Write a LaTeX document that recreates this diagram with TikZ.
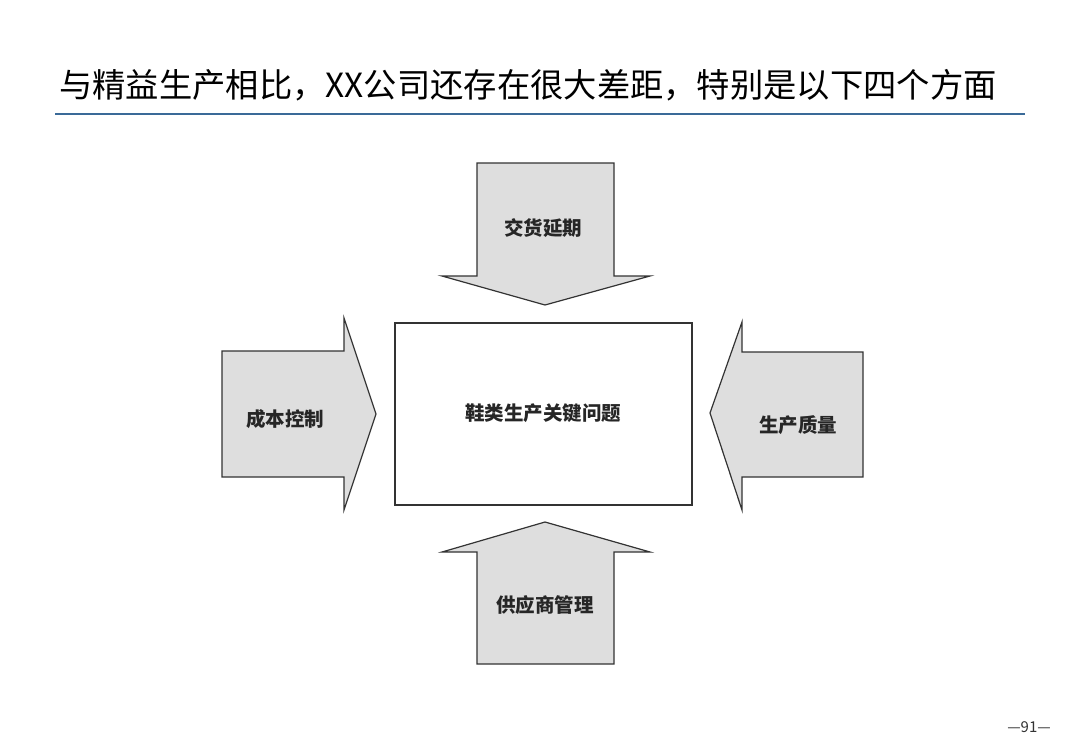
\documentclass[tikz,border=0pt]{standalone}
\usepackage{fontspec}
\setmainfont{Noto Sans CJK SC}
\definecolor{linegray}{HTML}{333333}
\definecolor{fillgray}{HTML}{DEDEDE}
\definecolor{rulecol}{HTML}{3A6A98}
\tikzset{
    fat/.style={draw=linegray, fill=fillgray, line width=1.2pt, line join=miter},
    lbl/.style={font=\fontsize{19.5}{22}\selectfont\bfseries, text=black!85}
}
\begin{document}
\begin{tikzpicture}[x=1pt,y=-1pt]
    \useasboundingbox (0,0) rectangle (1080,748);
    \node (title) at (528,85) {\fontsize{33.3}{38}\selectfont 与精益生产相比，XX公司还存在很大差距，特别是以下四个方面};
    \draw[rulecol, line width=1.2pt] (55,114) -- (1025,114);
    % arrows
    \draw[fat] (477,163) -- (614,163) -- (614,276) -- (650,276) -- (545,305)
        -- (442,276) -- (477,276) -- cycle;
    \draw[fat] (222,351) -- (344,351) -- (344,318) -- (376,414) -- (344,510)
        -- (344,477) -- (222,477) -- cycle;
    \draw[fat] (863,352) -- (742,352) -- (742,322) -- (710,413) -- (742,510)
        -- (742,477) -- (863,477) -- cycle;
    \draw[fat] (477,664) -- (614,664) -- (614,552) -- (650,552) -- (545,522)
        -- (442,552) -- (477,552) -- cycle;
    % centre box
    \draw[draw=linegray, line width=1.2pt, fill=white] (395,323) rectangle (692,505);
    \node[lbl] (core) at (543,413) {鞋类生产关键问题};
    \node[lbl] (delivery) at (543,228) {交货延期};
    \node[lbl] (cost) at (285,419) {成本控制};
    \node[lbl] (quality) at (798,425) {生产质量};
    \node[lbl] (supplier) at (545,605) {供应商管理};
    \node[font=\fontsize{15}{17}\selectfont, text=black!80] (page) at (1029,727) {—91—};
\end{tikzpicture}
\end{document}
